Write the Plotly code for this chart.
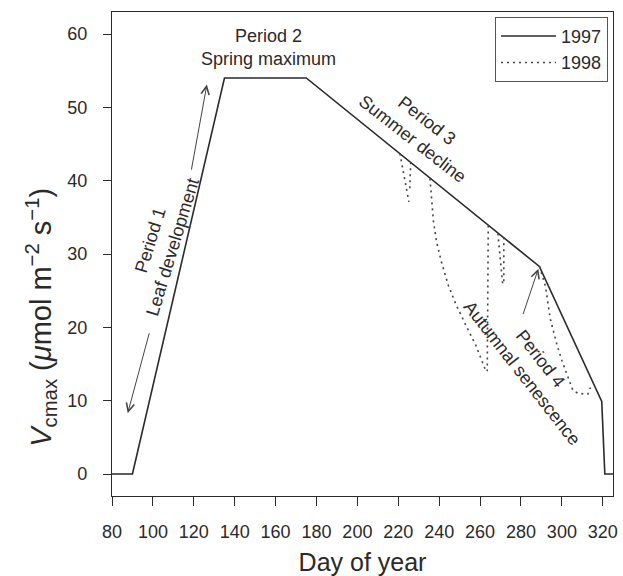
import plotly.graph_objects as go

# Seasonal Vcmax model, 1997 (solid)
days_1997 = [80, 90, 135, 175, 289, 319.5, 321, 325]
vcmax_1997 = [0, 0, 54, 54, 28.3, 9.9, 0, 0]

# 1998 departures from the 1997 curve (dotted); None separates the pieces
days_1998 = [
    220.8, 225.2, None,
    226.1, 225.6, None,
    235.5, 236.3, 237.2, 238.7, 241.1, 244.5, 248.4, 253.2, 258.0, 262.9, None,
    264.0, 263.5, None,
    268.7, 270.0, 271.1, None,
    271.6, 271.6, None,
    289.0, 291.9, 294.3, 297.7, 300.1, 302.5, 305.4, 307.9, 312.7, 314.0,
]
vcmax_1998 = [
    43.7, 37.1, None,
    42.5, 38.9, None,
    40.3, 37.1, 34.4, 31.7, 28.9, 25.7, 23.0, 20.2, 17.5, 14.0, None,
    33.9, 14.0, None,
    32.8, 28.5, 25.7, None,
    32.3, 26.2, None,
    28.3, 25.7, 21.2, 17.5, 15.4, 13.5, 11.4, 11.0, 10.9, 11.8,
]

x_ticks = [80, 100, 120, 140, 160, 180, 200, 220, 240, 260, 280, 300, 320]
y_ticks = [0, 10, 20, 30, 40, 50, 60]

# Period labels: text, day, value, rotation
period_labels = [
    ("Period 1<br>Leaf development", 104.2, 31.4, -73),
    ("Period 2<br>Spring maximum", 156.4, 58.2, 0),
    ("Period 3<br>Summer decline", 230.5, 47.0, 38),
    ("Period 4<br>Autumnal senescence", 285.0, 14.8, 52),
]

# Arrows: (tail day, tail value, head day, head value)
period_arrows = [
    (98.4, 19.4, 87.7, 8.3),
    (118.7, 41.3, 126.4, 53.1),
    (280.8, 21.6, 288.5, 28.0),
]

INK = "#2a2a2a"
FONT = "Liberation Sans, Arial, Helvetica, sans-serif"

fig = go.Figure()
fig.add_trace(go.Scatter(
    x=days_1997, y=vcmax_1997, mode="lines", name="1997",
    line=dict(color=INK, width=1.6),
))
fig.add_trace(go.Scatter(
    x=days_1998, y=vcmax_1998, mode="lines", name="1998",
    line=dict(color="#444444", width=1.6, dash="2px,4px"),
    connectgaps=False,
))

annotations = []
for text, xd, yv, ang in period_labels:
    annotations.append(dict(
        x=xd, y=yv, xref="x", yref="y", text=text, showarrow=False,
        textangle=ang, font=dict(size=18, color=INK, family=FONT),
        align="center",
    ))
for tx, ty, hx, hy in period_arrows:
    annotations.append(dict(
        x=hx, y=hy, ax=tx, ay=ty, xref="x", yref="y", axref="x", ayref="y",
        text="", showarrow=True, arrowhead=5, arrowsize=1.6, arrowwidth=1,
        arrowcolor="#444444", standoff=0, startstandoff=0,
    ))

# Y axis title, set a little below the middle of the axis
annotations.append(dict(
    x=-0.142, y=0.37, xref="paper", yref="paper",
    xanchor="center", yanchor="middle", showarrow=False, textangle=-90,
    text="<i>V</i><sub>cmax</sub> (<i>μ</i>mol m<sup>−2</sup> s<sup>−1</sup>)",
    font=dict(size=29, color=INK, family=FONT),
))

fig.update_layout(
    width=623, height=576,
    margin=dict(l=112, r=5, t=12, b=78),
    paper_bgcolor="white", plot_bgcolor="white",
    font=dict(family=FONT, color=INK, size=18),
    showlegend=True,
    legend=dict(
        x=0.99, y=0.99, xanchor="right", yanchor="top",
        bordercolor="#555555", borderwidth=1, bgcolor="white",
        font=dict(size=18, color=INK, family=FONT),
        tracegroupgap=0, itemwidth=55,
    ),
    annotations=annotations,
)
fig.update_xaxes(
    range=[80, 325], tickvals=x_ticks, ticktext=[str(v) for v in x_ticks],
    ticks="outside", ticklen=9, tickwidth=1, tickcolor=INK,
    showline=True, linecolor=INK, linewidth=1.3, mirror=True,
    showgrid=False, zeroline=False,
    tickfont=dict(size=18, color=INK), ticklabelstandoff=10,
    title=dict(text="Day of year", font=dict(size=25, color=INK), standoff=12),
)
fig.update_yaxes(
    range=[-3, 63], tickvals=y_ticks, ticktext=[str(v) for v in y_ticks],
    ticks="outside", ticklen=8, tickwidth=1, tickcolor=INK,
    showline=True, linecolor=INK, linewidth=1.3, mirror=True,
    showgrid=False, zeroline=False,
    tickfont=dict(size=18, color=INK), ticklabelstandoff=12,
)

fig.write_html("out.html")
